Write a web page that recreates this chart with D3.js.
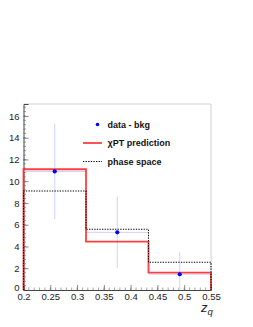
<!DOCTYPE html>
<html lang="en">
<head>
<meta charset="UTF-8">
<title>z_q</title>
<script src="https://cdn.jsdelivr.net/npm/d3@7"></script>
<style>
  body { margin: 0; background: #fff; }
  svg text { font-family: "Liberation Sans", Arial, sans-serif; }
</style>
</head>
<body>
<div id="chart"></div>
<script>
// bin edges of z_q and histogram contents
var binEdges = [0.2, 0.3167, 0.4333, 0.55];
var chptValues = [11.1, 4.45, 1.6];
var phaseValues = [9.1, 5.58, 2.55];

// data - bkg points
var dataX = [0.2583, 0.375, 0.4917];
var dataY = [10.9, 5.3, 1.45];
var dataLow = [6.5, 2.0, 0];
var dataHigh = [15.3, 8.6, 3.5];

var xTicks = [0.2, 0.25, 0.3, 0.35, 0.4, 0.45, 0.5, 0.55];
var yTicks = [0, 2, 4, 6, 8, 10, 12, 14, 16];

var legendItems = ["data - bkg", "\u03C7PT prediction", "phase space"];

var W = 253, H = 327;
var pLeft = 23.5, pRight = 211, pTop = 104, pBottom = 290;

var svg = d3.select("#chart").append("svg")
  .attr("width", W).attr("height", H);

var x = d3.scaleLinear().domain([0.2, 0.55]).range([pLeft, pRight]);
var y = d3.scaleLinear().domain([0, 17.1]).range([pBottom, pTop]);

// frame top / right
svg.append("path")
  .attr("d", "M" + pLeft + "," + pTop + "H" + pRight + "V" + pBottom)
  .attr("fill", "none").attr("stroke", "#d0d0d0").attr("stroke-width", 1);

// minor ticks
var yMinor = d3.range(0, 17.01, 0.4);
svg.append("g").selectAll("line").data(yMinor).enter().append("line")
  .attr("x1", pLeft).attr("x2", pLeft + 2.5)
  .attr("y1", function(d) { return y(d); }).attr("y2", function(d) { return y(d); })
  .attr("stroke", "#666").attr("stroke-width", 0.6);
var xMinor = d3.range(0.2, 0.5501, 0.01);
svg.append("g").selectAll("line").data(xMinor).enter().append("line")
  .attr("x1", function(d) { return x(d); }).attr("x2", function(d) { return x(d); })
  .attr("y1", pBottom).attr("y2", pBottom - 2.5)
  .attr("stroke", "#666").attr("stroke-width", 0.6);

// axes
var yAxis = svg.append("g")
  .attr("transform", "translate(" + pLeft + ",0)")
  .call(d3.axisLeft(y).tickValues(yTicks).tickSize(-5).tickPadding(4).tickFormat(d3.format("d")));
var xAxis = svg.append("g")
  .attr("transform", "translate(0," + pBottom + ")")
  .call(d3.axisBottom(x).tickValues(xTicks).tickSize(-5).tickPadding(3).tickFormat(function(d) { return String(+d.toFixed(2)); }));
[yAxis, xAxis].forEach(function(a) {
  a.select(".domain").attr("stroke", "#444");
  a.selectAll(".tick line").attr("stroke", "#555").attr("stroke-width", 0.7);
  a.selectAll("text").attr("font-size", 9.5).attr("fill", "#222")
    .attr("font-family", "Liberation Sans, Arial, sans-serif");
});
// lift the "0" a little so it sits above "0.2"
yAxis.selectAll(".tick").filter(function(d) { return d === 0; }).select("text").attr("dy", "0.05em");

// step path from bin values
function stepPath(vals) {
  var p = "M" + x(binEdges[0]) + "," + y(0);
  vals.forEach(function(v, i) {
    p += "V" + y(v) + "H" + x(binEdges[i + 1]);
  });
  p += "V" + y(0);
  return p;
}

// data error bars (light blue)
var pts = dataX.map(function(d, i) { return { x: d, y: dataY[i], lo: dataLow[i], hi: dataHigh[i], x0: binEdges[i], x1: binEdges[i + 1] }; });
var eb = svg.append("g");
eb.selectAll(".ex").data(pts).enter().append("line")
  .attr("x1", function(d) { return x(d.x0); }).attr("x2", function(d) { return x(d.x1); })
  .attr("y1", function(d) { return y(d.y); }).attr("y2", function(d) { return y(d.y); })
  .attr("stroke", "#d0d0ff").attr("stroke-width", 1);
eb.selectAll(".ey").data(pts).enter().append("line")
  .attr("x1", function(d) { return x(d.x); }).attr("x2", function(d) { return x(d.x); })
  .attr("y1", function(d) { return y(d.lo); }).attr("y2", function(d) { return y(d.hi); })
  .attr("stroke", "#d0d0ff").attr("stroke-width", 1);

// histograms
svg.append("path").attr("d", stepPath(chptValues))
  .attr("fill", "none").attr("stroke", "#ff2a2a").attr("stroke-width", 1.8).attr("stroke-opacity", 0.9);
svg.append("path").attr("d", stepPath(phaseValues))
  .attr("fill", "none").attr("stroke", "#000").attr("stroke-width", 1.1).attr("stroke-dasharray", "1.3,1.3");

// data points
svg.append("g").selectAll("circle").data(pts).enter().append("circle")
  .attr("cx", function(d) { return x(d.x); }).attr("cy", function(d) { return y(d.y); })
  .attr("r", 2.1).attr("fill", "#0000ff");

// legend
var lg = svg.append("g").attr("font-size", 9).attr("font-weight", "bold").attr("fill", "#111");
var lgY = [124.5, 143, 161.5];
lg.append("circle").attr("cx", 97.5).attr("cy", lgY[0]).attr("r", 1.8).attr("fill", "#0000ff");
lg.append("line").attr("x1", 83).attr("x2", 102).attr("y1", lgY[1]).attr("y2", lgY[1])
  .attr("stroke", "#ff2a2a").attr("stroke-width", 1.8).attr("stroke-opacity", 0.9);
lg.append("line").attr("x1", 83).attr("x2", 102).attr("y1", lgY[2]).attr("y2", lgY[2])
  .attr("stroke", "#000").attr("stroke-width", 1.1).attr("stroke-dasharray", "1.3,1.3");
lg.selectAll("text").data(legendItems).enter().append("text")
  .attr("x", 107.5).attr("y", function(d, i) { return lgY[i] + 3.3; })
  .text(function(d) { return d; });

// axis title z_q
var tt = svg.append("text").attr("x", 201).attr("y", 312).attr("font-style", "italic").attr("font-size", 13).attr("fill", "#222");
tt.append("tspan").text("z");
tt.append("tspan").attr("dy", 3).attr("font-size", 9.5).text("q");
</script>
</body>
</html>
